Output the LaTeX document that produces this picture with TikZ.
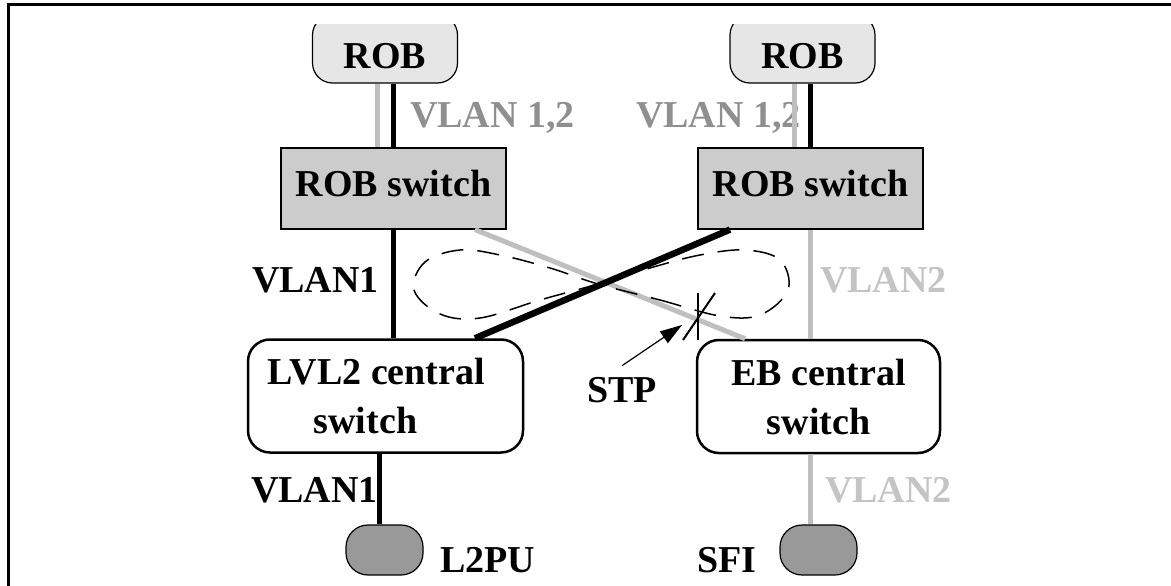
\documentclass[tikz,border=0pt]{standalone}
\usepackage{fontspec}
\setmainfont{Liberation Serif}
\usetikzlibrary{positioning}
\usetikzlibrary{arrows,arrows.meta}

\definecolor{robfill}{HTML}{E6E6E6}
\definecolor{swfill}{HTML}{CCCCCC}
\definecolor{pufill}{HTML}{999999}
\definecolor{linegray}{HTML}{BFBFBF}
\definecolor{vlandark}{HTML}{8F8F8F}
\definecolor{vlanlight}{HTML}{C4C4C4}

\begin{document}
\begin{tikzpicture}[x=1pt,y=-1pt,font=\fontsize{38}{49}\selectfont\bfseries,
	rob/.style={draw, fill=robfill, rounded corners=20pt, line width=1.2pt, minimum width=145pt, minimum height=68pt, text height=39pt, text depth=0pt, inner sep=0pt},
	robsw/.style={draw, fill=swfill, line width=1.2pt, minimum width=225pt, minimum height=81pt, text depth=10pt, inner sep=0pt},
	central/.style={draw, rounded corners=22pt, line width=2.5pt, minimum height=113pt, align=center, inner sep=0pt},
	pu/.style={draw, fill=pufill, rounded corners=22pt, line width=1.2pt, minimum width=77pt, minimum height=50pt, inner sep=0pt},
	lbl/.style={anchor=base west, inner sep=0pt},
	blackline/.style={line width=5pt, black},
	grayline/.style={line width=5pt, linegray}]
		\useasboundingbox (0,0) rectangle (1171,586);
		\draw[line width=3pt] (7,5) -- (1171,5);
		\draw[line width=3pt] (8,5) -- (8,586);
		\begin{scope}
			\clip (0,25) rectangle (1171,586);
			\node[rob] (rob1) at (385,49) {ROB};
			\node[rob] (rob2) at (802.5,49) {ROB};
		\end{scope}
		\node[robsw] (robsw1) at (393.5,188.5) {ROB switch};
		\node[robsw] (robsw2) at (810.5,188.5) {ROB switch};
		\node[central, minimum width=275pt] (lvl2) at (385.5,396) {LVL2 central\hspace*{18pt}\\switch\hspace*{40pt}};
		\node[central, minimum width=243pt] (eb) at (818.5,396.5) {EB central\\switch};
		\node[pu] (l2pu) at (384.5,550) {};
		\node[pu] (sfi) at (818.5,550) {};
		% labels
		\node[lbl, vlandark] (v12a) at (410,128) {VLAN 1,2};
		\node[lbl, vlandark] (v12b) at (636,128) {VLAN 1,2};
		\node[lbl] (v1a) at (252,292) {VLAN1};
		\node[lbl, vlanlight] (v2a) at (820,292) {VLAN2};
		\node[lbl] (v1b) at (251,502) {VLAN1};
		\node[lbl, vlanlight] (v2b) at (825,502) {VLAN2};
		\node[lbl] (l2putxt) at (440,572) {L2PU};
		\node[lbl] (sfitxt) at (697,572) {SFI};
		\node (stp) at (622,390) {STP};
		% links
		\draw[grayline] ([xshift=-16pt]robsw1.north) -- ([xshift=-16pt]robsw1.north |- rob1.south);
		\draw[blackline] (robsw1.north) -- (robsw1.north |- rob1.south);
		\draw[grayline] ([xshift=-16pt]robsw2.north) -- ([xshift=-16pt]robsw2.north |- rob2.south);
		\draw[blackline] (robsw2.north) -- (robsw2.north |- rob2.south);
		\draw[blackline] (robsw1.south) -- (robsw1.south |- lvl2.north);
		\draw[grayline] (robsw2.south) -- (robsw2.south |- eb.north);
		\draw[grayline] ([xshift=81.5pt]robsw1.south) -- ([xshift=-73.5pt]eb.north);
		\draw[blackline, line width=6.5pt] ([xshift=-80.5pt]robsw2.south) -- ([xshift=89.5pt]lvl2.north);
		\draw[blackline] ([xshift=-6pt]lvl2.south) -- ([xshift=-6pt]lvl2.south |- l2pu.north);
		\draw[grayline] ([xshift=-8pt]eb.south) -- ([xshift=-8pt]eb.south |- sfi.north);
		% spanning tree loop
		\draw[line width=1.5pt, dash pattern=on 22pt off 14pt] plot[smooth cycle, tension=0.6] coordinates {
			(598,284) (660,300) (720,316) (760,315) (788,290) (780,260) (745,250) (700,255) (650,268)
			(598,284) (540,300) (480,318) (440,314) (414,290) (425,262) (460,250) (500,255) (550,268)};
		\draw[line width=2pt] (698,293) -- (698,340);
		\draw[line width=2pt] (715,293) -- (683,340);
		\draw[line width=1.2pt, -{Triangle[length=22pt,width=14pt]}] (stp.north) ++(0,-8) -- (682,325);
\end{tikzpicture}
\end{document}
